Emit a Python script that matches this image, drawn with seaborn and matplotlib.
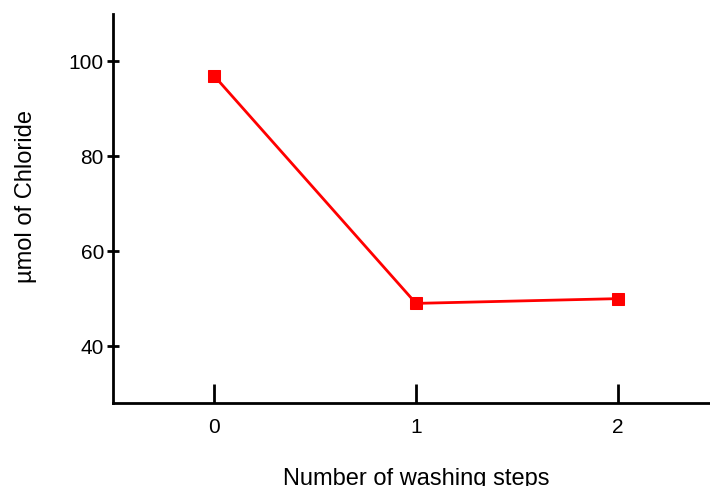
import matplotlib
matplotlib.use("Agg")
import matplotlib.pyplot as plt
import seaborn as sns
import pandas as pd

washing_steps = [0, 1, 2]
chloride_umol = [97, 49, 50]
x_ticks = [0, 1, 2]
y_ticks = [40, 60, 80, 100]

sns.set_style("ticks")
plt.rcParams["font.family"] = ["Liberation Sans", "DejaVu Sans"]

df = pd.DataFrame({"steps": washing_steps, "chloride": chloride_umol})

fig = plt.figure(figsize=(7.10, 4.86), dpi=100)
ax = fig.add_axes([113 / 710, 83 / 486, 606 / 710, 389 / 486])

sns.lineplot(data=df, x="steps", y="chloride", ax=ax, color="#ff0000",
             marker="s", markersize=8, markeredgecolor="#ff0000",
             linewidth=2, zorder=3)

ax.set_xlim(-0.5, 2.5)
ax.set_ylim(28, 110)
ax.set_xticks(x_ticks)
ax.set_yticks(y_ticks)

for side in ["top", "right"]:
    ax.spines[side].set_visible(False)
for side in ["left", "bottom"]:
    ax.spines[side].set_linewidth(2)
    ax.spines[side].set_color("black")

ax.tick_params(axis="x", direction="in", length=14, width=2, pad=11,
               labelsize=15, colors="black")
ax.tick_params(axis="y", direction="inout", length=9, width=2, pad=2,
               labelsize=15, colors="black")

ax.set_xlabel("Number of washing steps", fontsize=17, labelpad=22, color="black")
ax.set_ylabel("µmol of Chloride", fontsize=17, color="black")
ax.yaxis.set_label_coords(-0.126, 0.532)

fig.savefig("out.png", dpi=100)
